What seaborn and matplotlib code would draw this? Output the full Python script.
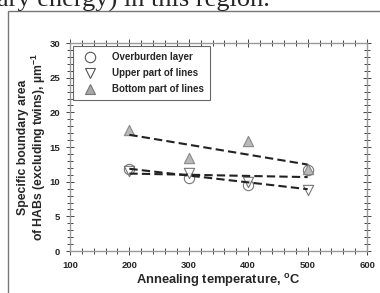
import numpy as np
import pandas as pd
import matplotlib
matplotlib.use("Agg")
import matplotlib.pyplot as plt
import seaborn as sns
from matplotlib.lines import Line2D
from matplotlib.patches import Rectangle
from matplotlib.ticker import MultipleLocator

# data
temps = [200, 300, 400, 500]
overburden = [11.9, 10.6, 9.5, 11.7]
upper_lines = [11.6, 11.3, 9.9, 8.8]
bottom_lines = [17.4, 13.4, 15.9, 11.8]
series_names = ["Overburden layer", "Upper part of lines", "Bottom part of lines"]

sns.set_style("ticks")
plt.rcParams["font.family"] = ["Liberation Sans", "DejaVu Sans"]
plt.rcParams["font.weight"] = "bold"
plt.rcParams["mathtext.fontset"] = "custom"
plt.rcParams["mathtext.rm"] = "Liberation Sans:bold"
plt.rcParams["mathtext.default"] = "rm"

df = pd.DataFrame({
    "temp": temps * 3,
    "value": overburden + upper_lines + bottom_lines,
    "series": np.repeat(series_names, len(temps)),
})

styles = {
    "Overburden layer": dict(marker="o", fc="white", ec="#555555"),
    "Upper part of lines": dict(marker="v", fc="white", ec="#555555"),
    "Bottom part of lines": dict(marker="^", fc="#a8a8a8", ec="#777777"),
}

fig = plt.figure(figsize=(3.8, 2.93), dpi=100)
ax = fig.add_axes([0.184, 0.143, 0.782, 0.71])

for name in series_names:
    sub = df[df["series"] == name]
    st = styles[name]
    sns.regplot(data=sub, x="temp", y="value", ax=ax, ci=None, truncate=True,
                marker=st["marker"],
                scatter_kws=dict(s=55, facecolors=st["fc"], edgecolors=st["ec"],
                                 linewidths=0.8, zorder=2),
                line_kws=dict(color="#222222", lw=1.5, ls=(0, (4, 2)), zorder=3))

ax.set_xlim(100, 600)
ax.set_ylim(0, 30)
ax.xaxis.set_major_locator(MultipleLocator(100))
ax.xaxis.set_minor_locator(MultipleLocator(20))
ax.yaxis.set_major_locator(MultipleLocator(5))
ax.yaxis.set_minor_locator(MultipleLocator(1))
ax.tick_params(which="both", direction="inout", top=True, right=True,
               labeltop=False, labelright=False, color="#444444", width=0.7,
               labelsize=6.8, pad=4)
ax.tick_params(which="major", length=6)
ax.tick_params(which="minor", length=4)
for sp in ax.spines.values():
    sp.set_color("#999999")
    sp.set_linewidth(1.0)
for lab in ax.get_xticklabels() + ax.get_yticklabels():
    lab.set_fontweight("bold")

ax.set_xlabel("Annealing temperature, $^{o}$C", fontsize=9.3, fontweight="bold", labelpad=1.5)
ax.set_ylabel("Specific boundary area\nof HABs (excluding twins), µm$^{-1}$",
              fontsize=8.8, fontweight="bold", linespacing=1.05, labelpad=1)

handles = [Line2D([], [], ls="none", marker=styles[n]["marker"], ms=7.5,
                  mfc=styles[n]["fc"], mec=styles[n]["ec"], mew=0.8)
           for n in series_names]
leg = ax.legend(handles, series_names, loc="upper left",
                prop=dict(weight="bold", size=7.0), frameon=True, fancybox=False,
                borderaxespad=0.35, handletextpad=1.2, labelspacing=0.62,
                borderpad=0.6, handlelength=2.2)
leg.get_frame().set_edgecolor("#444444")
leg.get_frame().set_linewidth(0.8)

# page frame and the cut-off running text above the chart
fig.patches.append(Rectangle((8 / 380, -0.1), 1.2, 1.1 - 11 / 293,
                             transform=fig.transFigure, fill=False,
                             ec="#777777", lw=1.0, clip_on=False))
fig.text(270 / 380, 1 - 7 / 293, "ary energy) in this region.", ha="right",
         va="baseline", fontsize=19, family="Liberation Serif", fontweight="normal")

fig.savefig("out.png", dpi=100)
